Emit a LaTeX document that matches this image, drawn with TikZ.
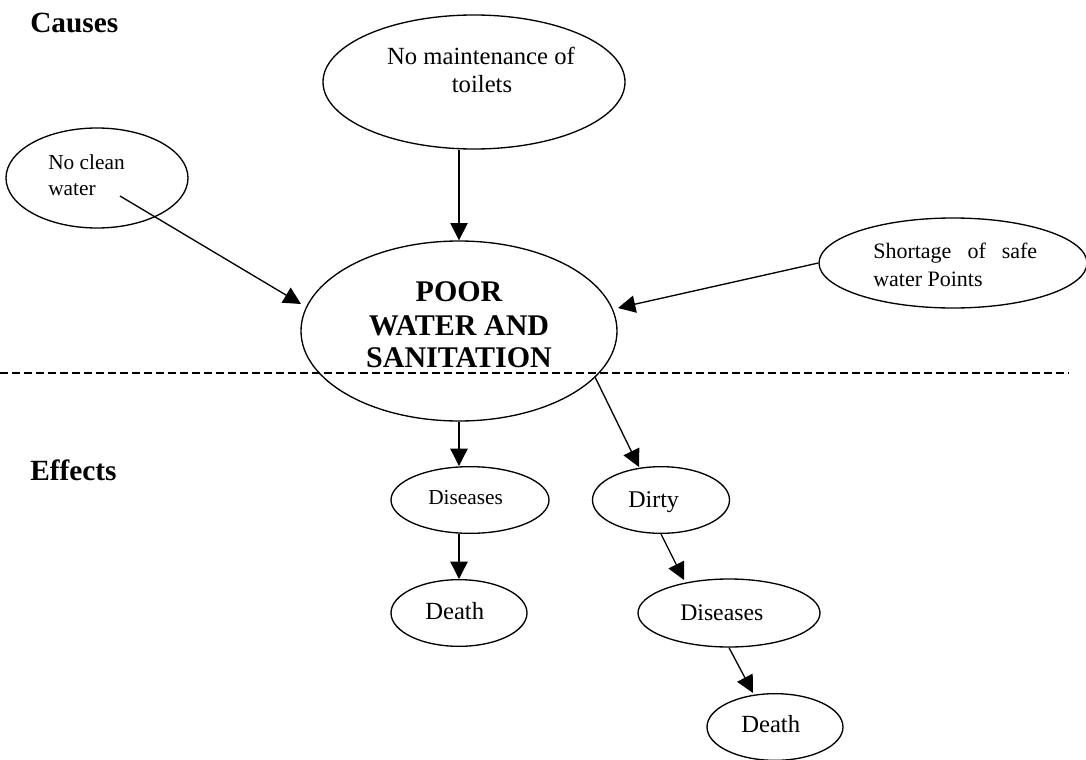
\documentclass[tikz,border=0pt]{standalone}
\usepackage{fontspec}
\setmainfont{Liberation Serif}
\usetikzlibrary{arrows.meta,shapes.geometric}
\begin{document}
\begin{tikzpicture}[x=0.75pt,y=-0.75pt,
  oval/.style={draw, ellipse, line width=1pt, inner sep=0pt},
  lbl/.style={anchor=base west, inner sep=0pt},
  clbl/.style={anchor=base, inner sep=0pt},
  head/.style={font=\fontsize{22}{26}\selectfont\bfseries},
  big/.style={font=\fontsize{22.5}{26}\selectfont\bfseries},
  arr/.style={line width=1pt, -{Triangle[length=13pt,width=13pt]}},
  sepline/.style={line width=1pt, dash pattern=on 6pt off 3pt},
]
\useasboundingbox (0,0) rectangle (1086,760);

% headings
\node[lbl, head] (causes) at (30,32) {Causes};
\node[lbl, head] (effects) at (30,480) {Effects};

% ellipses
\node[oval, minimum width=226.5pt, minimum height=100.5pt] (top) at (474,82) {};
\node[oval, minimum width=136.5pt, minimum height=75pt] (ncw) at (97,178) {};
\node[oval, minimum width=237pt, minimum height=135pt] (main) at (459,331) {};
\node[oval, minimum width=201pt, minimum height=67.5pt] (sws) at (953,263) {};
\node[oval, minimum width=118.5pt, minimum height=50pt] (dis1) at (470,500) {};
\node[oval, minimum width=102pt, minimum height=50pt] (death1) at (459,613) {};
\node[oval, minimum width=102.75pt, minimum height=50pt] (dirty) at (661,500) {};
\node[oval, minimum width=136.5pt, minimum height=51pt] (dis2) at (729,613) {};
\node[oval, minimum width=102pt, minimum height=50pt] (death2) at (775,727) {};

% texts
\node[clbl, font=\fontsize{18.5}{22}\selectfont] (topa) at (481,64) {No maintenance of};
\node[clbl, font=\fontsize{18.5}{22}\selectfont] (topb) at (482,92) {toilets};
\node[lbl, font=\fontsize{16}{19}\selectfont] (ncwa) at (48,169) {No clean};
\node[lbl, font=\fontsize{16}{19}\selectfont] (ncwb) at (48,195) {water};
\node[lbl, font=\fontsize{16.5}{20}\selectfont] (swsa) at (873,258) {\hbox to 123pt{Shortage\hfill of\hfill safe}};
\node[lbl, font=\fontsize{16.5}{20}\selectfont] (swsb) at (873,286) {water Points};
\node[clbl, big] (maina) at (459,301) {POOR};
\node[clbl, big] (mainb) at (459,335) {WATER AND};
\node[clbl, big] (mainc) at (459,367) {SANITATION};
\node[lbl, font=\fontsize{16}{19}\selectfont] (dis1t) at (428,504) {Diseases};
\node[lbl, font=\fontsize{18}{21}\selectfont] (dirtyt) at (628,507) {Dirty};
\node[lbl, font=\fontsize{18.5}{22}\selectfont] (death1t) at (425,619) {Death};
\node[lbl, font=\fontsize{17.8}{21}\selectfont] (dis2t) at (680,620) {Diseases};
\node[lbl, font=\fontsize{18.5}{22}\selectfont] (death2t) at (741,732) {Death};

% separator
\coordinate (sepL) at (0,373);
\coordinate (sepR) at (1069,373);
\draw[sepline] (sepL) -- (sepR);

% connector end points
\coordinate (ncwA) at (120,196);
\coordinate (mainW) at (301,304);
\coordinate (mainE) at (618,308);
\coordinate (mainSE) at (595,377);
\coordinate (dirtyN) at (639,467);
\coordinate (dis2N) at (684,580);
\coordinate (death2N) at (753,693);

% connectors
\draw[arr] (main.north |- top.south) -- (main.north);
\draw[arr] (ncwA) -- (mainW);
\draw[arr] (sws.west) -- (mainE);
\draw[arr] (main.south) -- (main.south |- dis1.north);
\draw[arr] (mainSE) -- (dirtyN);
\draw[arr] (dis1.south -| death1.north) -- (death1.north);
\draw[arr] (dirty.south) -- (dis2N);
\draw[arr] (dis2.south) -- (death2N);
\end{tikzpicture}
\end{document}
